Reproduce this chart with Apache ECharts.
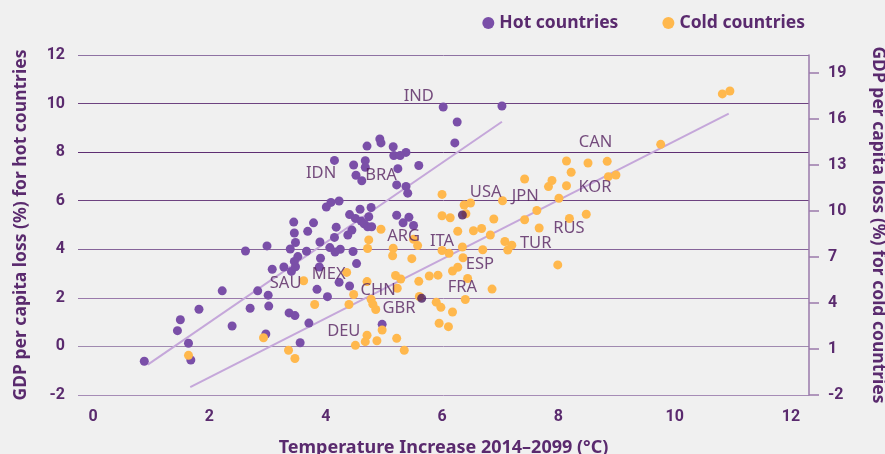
<!DOCTYPE html>
<html><head><meta charset="utf-8">
<script src="https://cdn.jsdelivr.net/npm/echarts@6/dist/echarts.min.js"></script>
<style>html,body{margin:0;padding:0;background:#f0f0f0}#c{width:885px;height:454px}</style>
</head><body><div id="c"></div>
<script>
// ---- data ----
const hotX = [6.02,7.03,6.26,6.22,4.93,4.95,4.71,5.16,5.38,5.17,5.28,4.15,4.48,4.68,4.68,5.60,5.24,4.52,4.62,5.22,5.38,5.41,4.23,4.09,4.01,4.59,4.78,4.41,4.51,4.74,4.61,4.66,4.72,4.79,5.22,5.33,5.43,5.51,4.18,4.45,4.38,3.79,3.45,3.69,3.46,3.90,4.07,3.48,4.25,3.67,4.16,4.47,3.52,3.91,3.46,4.53,3.89,3.41,3.48,3.28,3.08,2.99,2.62,3.39,4.15,4.23,4.41,3.85,4.03,3.71,3.56,3.37,3.47,3.01,3.02,2.83,2.70,2.97,2.39,2.22,1.82,1.50,1.45,1.64,1.68,0.88,4.97];
const hotY = [9.86,9.90,9.24,8.38,8.54,8.38,8.25,8.22,7.99,7.86,7.86,7.66,7.47,7.65,7.38,7.45,7.32,7.05,6.82,6.65,6.59,6.31,5.99,5.93,5.74,5.65,5.72,5.43,5.27,5.34,5.16,5.05,4.93,4.93,5.40,5.09,5.32,4.98,4.91,4.79,4.59,5.09,5.12,4.74,4.67,4.30,4.07,4.28,4.00,3.92,3.89,3.91,3.70,3.63,3.50,3.41,3.27,3.09,3.28,3.27,3.18,4.14,3.93,4.01,4.49,2.64,2.49,2.35,2.05,0.96,0.15,1.38,1.27,2.11,1.66,2.29,1.57,0.51,0.84,2.29,1.53,1.10,0.65,0.13,-0.56,-0.61,0.91];
const hotDarkX = [6.35,5.65];
const hotDarkY = [5.41,1.98];
const coldX = [1.64,2.93,3.36,3.47,3.62,3.81,4.36,4.48,4.40,4.71,4.78,4.81,4.86,4.95,4.74,4.72,4.71,4.68,4.51,4.88,4.97,5.22,5.35,5.16,5.15,5.48,5.20,5.29,5.23,5.60,5.61,5.51,5.58,5.78,5.93,5.90,5.95,6.00,6.38,6.49,6.41,6.00,6.14,6.89,6.27,6.54,6.68,6.83,7.04,7.42,7.63,7.42,7.67,7.08,7.20,7.13,8.14,7.83,7.89,8.01,8.19,8.48,7.99,6.00,6.12,6.35,6.36,6.70,6.18,6.27,6.44,5.98,6.18,6.40,6.86,6.11,10.82,10.95,9.76,8.14,8.51,8.84,8.22,8.86,8.99];
const coldY = [0.59,1.74,0.92,0.38,5.46,3.91,6.00,4.56,3.91,5.40,4.25,3.93,3.58,8.82,8.12,7.56,1.90,1.48,1.24,1.54,2.24,1.70,0.92,7.58,7.09,6.90,5.80,5.57,4.97,5.42,4.43,8.16,7.75,5.77,5.82,4.06,2.68,11.09,10.40,10.53,9.83,9.70,9.57,9.49,8.69,8.72,8.87,8.44,10.68,12.10,10.04,9.44,8.90,8.02,7.78,7.46,11.66,11.60,12.00,10.84,9.52,9.80,6.49,7.43,7.25,7.66,6.96,7.48,6.09,6.34,5.60,3.72,3.42,4.23,4.91,2.46,17.65,17.84,14.36,13.27,13.14,13.25,12.54,12.25,12.36];
const hotTrendX = [0.94,7.03];
const hotTrendY = [-0.75,9.25];
const coldTrendX = [1.67,10.93];
const coldTrendY = [-1.48,16.36];
const labelNames = ['IND','IDN','BRA','USA','JPN','ARG','ITA','ESP','TUR','RUS','KOR','CAN','FRA','GBR','CHN','MEX','SAU','DEU'];
const labelX = [5.60,3.92,4.95,6.75,7.43,5.34,6.00,6.65,7.61,8.18,8.63,8.64,6.35,5.26,4.90,4.05,3.31,4.31];
const labelY = [10.31,7.13,7.03,6.35,6.19,4.55,4.31,3.39,4.25,4.86,6.55,8.39,2.43,1.57,2.32,2.97,2.60,0.64];
const xTicks = [0,2,4,6,8,10,12];
const leftTicks = [-2,0,2,4,6,8,10,12];
const rightTicks = [-2,1,4,7,10,13,16,19];

// ---- build ----
const zip = (a,b) => a.map((v,i)=>[v,b[i]]);
const textCol = '#5a2a6e';
const numFont = "'Liberation Sans Narrow','Roboto',sans-serif";
const titleFont = "'Noto Sans',sans-serif";
const chart = echarts.init(document.getElementById('c'), null, {renderer:'canvas'});
chart.setOption({
  backgroundColor:'#f0f0f0',
  animation:false,
  legend:{
    data:['Hot countries','Cold countries'],
    right:75, top:9, icon:'circle', itemWidth:12, itemHeight:12, itemGap:44,
    textStyle:{color:textCol, fontFamily:titleFont, fontWeight:'bold', fontSize:17.5}
  },
  grid:{left:78, right:76, top:55, bottom:59, outerBoundsMode:'none', containLabel:false},
  xAxis:{
    type:'value', min:-0.26, max:12.31,
    name:'Temperature Increase 2014–2099 (°C)', nameLocation:'middle', nameGap:44,
    nameTextStyle:{color:textCol, fontFamily:titleFont, fontWeight:'bold', fontSize:18},
    axisLine:{show:false}, axisTick:{show:false}, splitLine:{show:false},
    axisLabel:{customValues:xTicks, margin:14, color:textCol, fontFamily:numFont, fontWeight:'bold', fontSize:16}
  },
  yAxis:[{
    type:'value', min:-2, max:12, interval:2, position:'left',
    name:'GDP per capita loss (%) for hot countries', nameLocation:'middle', nameGap:48, nameRotate:90,
    nameTextStyle:{color:textCol, fontFamily:titleFont, fontWeight:'bold', fontSize:17.5},
    axisLine:{show:false}, axisTick:{show:false},
    axisLabel:{margin:13, color:textCol, fontFamily:numFont, fontWeight:'bold', fontSize:16},
    splitLine:{show:true, lineStyle:{width:1, color:['#a68cb6','#a08ab0','#9a7aab','#86649a','#6d4280','#5e2e72','#6d4280','#8f72a3']}}
  },{
    type:'value', min:-2, max:20.19, position:'right',
    name:'GDP per capita loss (%) for cold countries', nameLocation:'middle', nameGap:60, nameRotate:-90,
    nameTextStyle:{color:textCol, fontFamily:titleFont, fontWeight:'bold', fontSize:17.5},
    axisLine:{show:true, lineStyle:{color:'#9a7aab', width:1.5}},
    axisTick:{show:true, customValues:rightTicks, length:10, lineStyle:{color:'#9a7aab', width:1.5}},
    axisLabel:{customValues:rightTicks, margin:19, color:textCol, fontFamily:numFont, fontWeight:'bold', fontSize:16},
    splitLine:{show:false}
  }],
  series:[
    {name:'hotTrend', type:'line', yAxisIndex:0, data:zip(hotTrendX,hotTrendY), symbol:'none', silent:true,
     lineStyle:{color:'#c5a7da', width:2}, z:1},
    {name:'coldTrend', type:'line', yAxisIndex:1, data:zip(coldTrendX,coldTrendY), symbol:'none', silent:true,
     lineStyle:{color:'#c5a7da', width:2}, z:1},
    {name:'Hot countries', type:'scatter', yAxisIndex:0, data:zip(hotX,hotY), symbolSize:9,
     itemStyle:{color:'#7a4fa8', opacity:1}, z:3},
    {name:'Cold countries', type:'scatter', yAxisIndex:1, data:zip(coldX,coldY), symbolSize:9,
     itemStyle:{color:'#ffb84d', opacity:1}, z:4},
    {name:'hotDark', type:'scatter', yAxisIndex:0, data:zip(hotDarkX,hotDarkY), symbolSize:9,
     itemStyle:{color:'#4a1a60'}, z:5},
    {name:'labels', type:'scatter', yAxisIndex:0, silent:true, symbolSize:1, itemStyle:{color:'rgba(0,0,0,0)'}, z:6,
     data:labelNames.map((n,i)=>({name:n, value:[labelX[i],labelY[i]]})),
     label:{show:true, position:'inside', formatter:'{b}', color:'#55225f', fontFamily:titleFont, fontSize:16.5}}
  ]
});
</script></body></html>
